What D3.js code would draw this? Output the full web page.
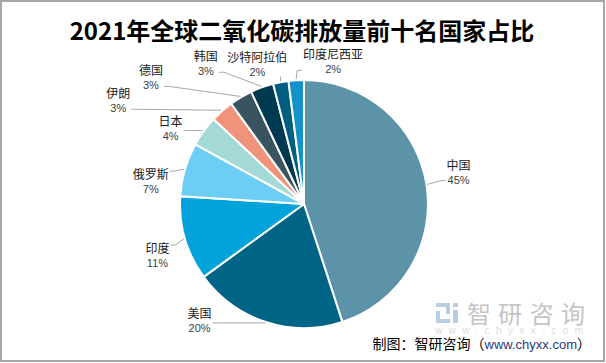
<!DOCTYPE html>
<html><head><meta charset="utf-8">
<script src="https://cdn.jsdelivr.net/npm/d3@7/dist/d3.min.js"></script>
<style>
html,body{margin:0;padding:0;background:#fff;}
svg{display:block;}
</style>
</head><body>
<script>
// ---- data ----
const titleText = "2021年全球二氧化碳排放量前十名国家占比";
const countries = ["中国","美国","印度","俄罗斯","日本","伊朗","德国","韩国","沙特阿拉伯","印度尼西亚"];
const shares = [45,20,11,7,4,3,3,3,2,2];
const colors = ["#5d93a9","#006487","#01a3da","#6dcef5","#a3d9d6","#ef937b","#39535f","#003a51","#005f81","#1391c8"];
// label layout in polar terms around the pie centre: [angle deg clockwise from top, distance px]
const labelPolar = [[78,158],[222,156],[251,155],[278.7,155],[300,154],[299.3,213],[309.7,199],[325.2,172],[341.7,148.5],[11.5,146]];
const sourcePrefix = "制图：智研咨询（";
const sourceUrl = "www.chyxx.com";
const sourceSuffix = "）";

const W = 606, H = 363;
const cx = 304, cy = 204, R = 124;

const svg = d3.select("body").append("svg").attr("width", W).attr("height", H);
svg.append("rect").attr("x",1).attr("y",1).attr("width",W-3).attr("height",H-3)
  .attr("fill","#fff").attr("stroke","#a6a6a6").attr("stroke-width",2);

svg.append("text").attr("x",302).attr("y",40).attr("text-anchor","middle")
  .attr("font-family","'Noto Sans CJK SC','Noto Sans',sans-serif").attr("font-weight",700)
  .attr("font-size",24).attr("fill","#000").text(titleText);

// watermark
const wm = svg.append("g");
const ic = "#b9cde0";
wm.append("rect").attr("x",436).attr("y",303).attr("width",14).attr("height",4).attr("fill",ic);
wm.append("rect").attr("x",446).attr("y",303).attr("width",4).attr("height",11).attr("fill",ic);
wm.append("rect").attr("x",436).attr("y",311).attr("width",4).attr("height",12).attr("fill",ic);
wm.append("rect").attr("x",436).attr("y",319).attr("width",14).attr("height",4).attr("fill",ic);
wm.append("rect").attr("x",453).attr("y",303).attr("width",5).attr("height",4).attr("fill",ic);
wm.append("rect").attr("x",453).attr("y",310).attr("width",5).attr("height",13).attr("fill",ic);
wm.append("text").attr("x",467).attr("y",323).attr("font-family","'Noto Sans CJK SC',sans-serif")
  .attr("font-size",24).attr("fill","#c4c4c4").attr("textLength",118).attr("lengthAdjust","spacing").text("智研咨询");
wm.append("text").attr("x",435).attr("y",334).attr("font-family","'Liberation Sans',sans-serif")
  .attr("font-size",10).attr("fill","#dcdcdc").attr("textLength",148).attr("lengthAdjust","spacing").text("www.chyxx.com");

// pie
const pie = d3.pie().sort(null).value(d => d).startAngle(0).endAngle(2*Math.PI);
const arcs = pie(shares);
const arc = d3.arc().innerRadius(0).outerRadius(R);
const g = svg.append("g").attr("transform",`translate(${cx},${cy})`);
g.selectAll("path").data(arcs).join("path")
  .attr("d",arc).attr("fill",(d,i)=>colors[i])
  .attr("stroke","#fff").attr("stroke-width",2).attr("stroke-linejoin","round");

// labels
const lab = svg.append("g");
arcs.forEach((a,i) => {
  const ang = labelPolar[i][0]*Math.PI/180, dist = labelPolar[i][1];
  const lx = cx + dist*Math.sin(ang), ly = cy - dist*Math.cos(ang);
  const name = lab.append("text").attr("x",lx).attr("y",ly-1.5).attr("text-anchor","middle")
    .attr("font-family","'Noto Sans CJK SC',sans-serif").attr("font-size",12).attr("fill","#1a1a1a").text(countries[i]);
  const pct = lab.append("text").attr("x",lx).attr("y",ly+12.5).attr("text-anchor","middle")
    .attr("font-family","'Liberation Sans','Noto Sans',sans-serif").attr("font-size",11).attr("fill","#404040").text(shares[i]+"%");
  const b1 = name.node().getBBox(), b2 = pct.node().getBBox();
  const left = Math.min(b1.x,b2.x)-1, right = Math.max(b1.x+b1.width,b2.x+b2.width)+1;
  const top = b1.y+2, bottom = b2.y+b2.height-1;
  const mid = (a.startAngle+a.endAngle)/2;
  const tx = cx + (R+1)*Math.sin(mid), ty = cy - (R+1)*Math.cos(mid);
  let pts;
  if (tx < left || tx > right) {
    const sx = tx < left ? left : right;
    const sy = Math.max(top+4, Math.min(bottom-4, ty));
    const ex = sx + (tx < left ? -5 : 5);
    pts = [[sx,sy],[ex,sy],[tx,ty]];
  } else {
    const sy = ty > bottom ? bottom : top;
    pts = [[tx,sy],[tx,ty]];
  }
  lab.append("path").attr("d",d3.line()(pts)).attr("fill","none").attr("stroke","#a6a6a6").attr("stroke-width",1);
});

// source
const src = svg.append("text").attr("x",591).attr("y",349).attr("text-anchor","end")
  .attr("font-family","'Noto Sans CJK SC',sans-serif").attr("font-size",14).attr("fill","#000");
src.append("tspan").text(sourcePrefix);
src.append("tspan").attr("fill","#1f3a7a").attr("font-family","'Liberation Sans',sans-serif").attr("font-size",13).text(sourceUrl);
src.append("tspan").text(sourceSuffix);
</script>
</body></html>
